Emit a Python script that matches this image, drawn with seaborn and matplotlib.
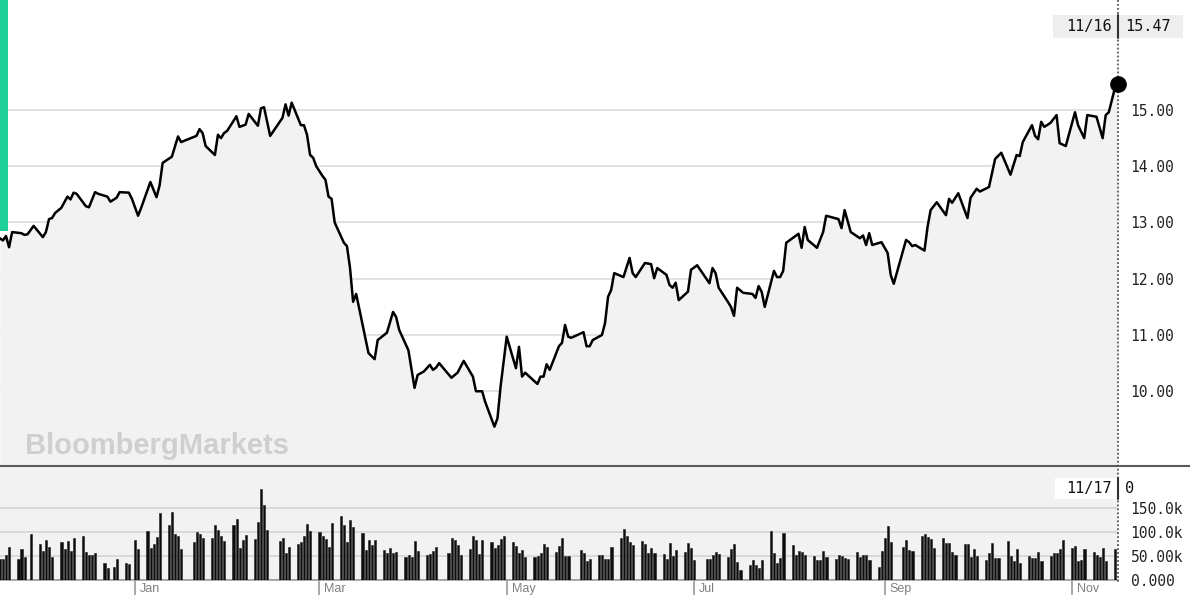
import pandas as pd
import matplotlib
matplotlib.use("Agg")
import matplotlib.pyplot as plt
import matplotlib.dates as mdates
from matplotlib.lines import Line2D
from matplotlib.patches import Rectangle
import seaborn as sns

# prix de cloture (points du trace)
price_dates = [
    "2019-11-18", "2019-11-19", "2019-11-20", "2019-11-21", "2019-11-22", "2019-11-25", "2019-11-26",
    "2019-11-27", "2019-11-29", "2019-12-02", "2019-12-03", "2019-12-04", "2019-12-05", "2019-12-06",
    "2019-12-08", "2019-12-10", "2019-12-11", "2019-12-12", "2019-12-13", "2019-12-16", "2019-12-17",
    "2019-12-19", "2019-12-20", "2019-12-23", "2019-12-24", "2019-12-26", "2019-12-27", "2019-12-30",
    "2019-12-31", "2020-01-02", "2020-01-03", "2020-01-06", "2020-01-08", "2020-01-09", "2020-01-10",
    "2020-01-13", "2020-01-15", "2020-01-16", "2020-01-21", "2020-01-22", "2020-01-23", "2020-01-24",
    "2020-01-27", "2020-01-28", "2020-01-29", "2020-01-30", "2020-01-31", "2020-02-02", "2020-02-03",
    "2020-02-04", "2020-02-06", "2020-02-07", "2020-02-10", "2020-02-11", "2020-02-12", "2020-02-14",
    "2020-02-18", "2020-02-19", "2020-02-20", "2020-02-21", "2020-02-24", "2020-02-25", "2020-02-26",
    "2020-02-27", "2020-02-28", "2020-02-29", "2020-03-02", "2020-03-03", "2020-03-04", "2020-03-05",
    "2020-03-06", "2020-03-09", "2020-03-10", "2020-03-11", "2020-03-12", "2020-03-13", "2020-03-17",
    "2020-03-19", "2020-03-20", "2020-03-23", "2020-03-25", "2020-03-26", "2020-03-27", "2020-03-30",
    "2020-04-01", "2020-04-02", "2020-04-04", "2020-04-06", "2020-04-07", "2020-04-08", "2020-04-09",
    "2020-04-13", "2020-04-15", "2020-04-17", "2020-04-20", "2020-04-21", "2020-04-23", "2020-04-24",
    "2020-04-27", "2020-04-28", "2020-04-29", "2020-05-01", "2020-05-04", "2020-05-05", "2020-05-06",
    "2020-05-07", "2020-05-11", "2020-05-12", "2020-05-13", "2020-05-14", "2020-05-15", "2020-05-18",
    "2020-05-19", "2020-05-20", "2020-05-21", "2020-05-22", "2020-05-26", "2020-05-27", "2020-05-28",
    "2020-05-29", "2020-06-01", "2020-06-02", "2020-06-03", "2020-06-04", "2020-06-05", "2020-06-08",
    "2020-06-10", "2020-06-11", "2020-06-12", "2020-06-15", "2020-06-17", "2020-06-18", "2020-06-19",
    "2020-06-22", "2020-06-23", "2020-06-24", "2020-06-25", "2020-06-26", "2020-06-29", "2020-06-30",
    "2020-07-02", "2020-07-06", "2020-07-07", "2020-07-08", "2020-07-09", "2020-07-12", "2020-07-13",
    "2020-07-14", "2020-07-15", "2020-07-17", "2020-07-20", "2020-07-21", "2020-07-22", "2020-07-23",
    "2020-07-24", "2020-07-27", "2020-07-28", "2020-07-29", "2020-07-30", "2020-07-31", "2020-08-02",
    "2020-08-04", "2020-08-05", "2020-08-06", "2020-08-07", "2020-08-10", "2020-08-12", "2020-08-13",
    "2020-08-17", "2020-08-18", "2020-08-19", "2020-08-21", "2020-08-24", "2020-08-25", "2020-08-26",
    "2020-08-27", "2020-08-28", "2020-08-31", "2020-09-02", "2020-09-03", "2020-09-04", "2020-09-08",
    "2020-09-09", "2020-09-10", "2020-09-11", "2020-09-14", "2020-09-15", "2020-09-16", "2020-09-18",
    "2020-09-21", "2020-09-22", "2020-09-23", "2020-09-25", "2020-09-28", "2020-09-29", "2020-10-01",
    "2020-10-02", "2020-10-05", "2020-10-07", "2020-10-09", "2020-10-12", "2020-10-14", "2020-10-15",
    "2020-10-16", "2020-10-19", "2020-10-20", "2020-10-21", "2020-10-22", "2020-10-23", "2020-10-25",
    "2020-10-27", "2020-10-28", "2020-10-30", "2020-11-02", "2020-11-03", "2020-11-05", "2020-11-06",
    "2020-11-09", "2020-11-11", "2020-11-12", "2020-11-13", "2020-11-15", "2020-11-16",
]
price_values = [
    12.72, 12.68, 12.76, 12.56, 12.83, 12.81, 12.78,
    12.79, 12.94, 12.74, 12.83, 13.06, 13.08, 13.17,
    13.26, 13.46, 13.41, 13.53, 13.51, 13.29, 13.27,
    13.54, 13.51, 13.46, 13.37, 13.44, 13.54, 13.53,
    13.42, 13.12, 13.26, 13.72, 13.45, 13.66, 14.06,
    14.17, 14.53, 14.43, 14.54, 14.66, 14.59, 14.36,
    14.20, 14.56, 14.50, 14.59, 14.63, 14.80, 14.89,
    14.70, 14.74, 14.93, 14.72, 15.03, 15.05, 14.54,
    14.86, 15.10, 14.90, 15.13, 14.73, 14.73, 14.56,
    14.20, 14.15, 14.00, 13.83, 13.76, 13.46, 13.42,
    13.00, 12.64, 12.58, 12.19, 11.59, 11.73, 10.68,
    10.57, 10.91, 11.04, 11.41, 11.32, 11.09, 10.73,
    10.06, 10.29, 10.35, 10.47, 10.38, 10.42, 10.50,
    10.24, 10.33, 10.54, 10.26, 10.00, 10.00, 9.81,
    9.37, 9.52, 10.08, 10.97, 10.41, 10.79, 10.26,
    10.33, 10.13, 10.26, 10.26, 10.48, 10.38, 10.80,
    10.86, 11.18, 10.97, 10.95, 11.05, 10.80, 10.80,
    10.91, 11.00, 11.21, 11.68, 11.80, 12.10, 12.03,
    12.37, 12.10, 12.03, 12.28, 12.26, 12.01, 12.19,
    12.07, 11.89, 11.84, 11.93, 11.62, 11.77, 12.16,
    12.24, 11.92, 12.19, 12.10, 11.84, 11.59, 11.50,
    11.34, 11.84, 11.75, 11.73, 11.66, 11.87, 11.77,
    11.50, 12.14, 12.03, 12.03, 12.14, 12.64, 12.72,
    12.80, 12.55, 12.92, 12.69, 12.55, 12.83, 13.12,
    13.06, 12.90, 13.22, 12.83, 12.72, 12.77, 12.60,
    12.81, 12.60, 12.65, 12.46, 12.07, 11.91, 12.69,
    12.65, 12.58, 12.60, 12.50, 12.92, 13.22, 13.36,
    13.13, 13.42, 13.35, 13.52, 13.08, 13.44, 13.60,
    13.55, 13.63, 14.13, 14.24, 13.85, 14.20, 14.18,
    14.43, 14.73, 14.54, 14.48, 14.79, 14.70, 14.77,
    14.91, 14.41, 14.36, 14.96, 14.73, 14.50, 14.91,
    14.88, 14.50, 14.91, 14.96, 15.39, 15.47,
]

# volume journalier (milliers), une barre par seance
vol_start = "2019-11-18"
vol_end = "2020-11-16"
vol_holidays = ["2019-11-28", "2019-12-25", "2020-01-01", "2020-01-20", "2020-02-17",
                "2020-04-10", "2020-05-25", "2020-07-03", "2020-09-07"]
volume_k = [
    50, 43, 43, 52, 69,  44, 65, 47, 96,  75, 60, 83, 69, 47,  78, 64, 81, 60, 87,
    92, 58, 51, 51, 56,  35, 24, 26, 43,  36, 34, 83, 64,  101, 66, 74, 90, 140,
    115, 142, 96, 92, 65,  79, 100, 96, 87,  87, 114, 105, 92, 82,  114, 126, 66, 83, 93,
    85, 120, 189, 156, 103,  81, 87, 56, 69,  74, 79, 92, 117, 102,  99, 92, 85, 69, 119,
    133, 115, 79, 124, 110,  97, 62, 83, 72, 83,  62, 56, 66, 56, 59,  48, 53, 47, 82, 61,
    53, 55, 61, 69,  56, 87, 83, 72, 53,  64, 92, 83, 55, 83,  78, 67, 73, 85, 91,
    80, 71, 56, 62, 47,  48, 49, 56, 74, 68,  58, 70, 88, 50, 50,  62, 56, 40, 44,
    51, 51, 43, 44, 68,  87, 107, 92, 79, 73,  81, 74, 56, 67, 56,  54, 44, 76, 49, 62,
    58, 77, 66, 42,  43, 44, 53, 58, 55,  48, 65, 75, 37, 21,  31, 42, 31, 24, 42,
    102, 56, 36, 46, 97,  73, 51, 61, 58, 53,  49, 42, 42, 60, 47,  44, 53, 49, 45, 44,
    58, 47, 51, 51, 42,  28, 60, 88, 112, 79,  68, 83, 62, 61,  92, 96, 90, 85, 67,
    87, 76, 76, 59, 53,  75, 75, 47, 64, 50,  42, 57, 76, 46, 46,  81, 50, 40, 65, 35,
    49, 45, 45, 58, 40,  49, 56, 57, 64, 83,  66, 71, 40, 42, 65,  58, 51, 47, 67, 40,
    65,
]

price_ticks = [10, 11, 12, 13, 14, 15]
vol_ticks = [0, 50, 100, 150]
vol_tick_labels = ["0.000", "50.00k", "100.0k", "150.0k"]
month_ticks = ["2020-01-01", "2020-03-01", "2020-05-01", "2020-07-01", "2020-09-01", "2020-11-01"]
month_labels = ["Jan", "Mar", "May", "Jul", "Sep", "Nov"]
last_price_label = ("11/16", "15.47")
last_vol_label = ("11/17", "0")

W, H = 1190, 600


def fx(px):
    return px / W


def fy(py):
    return 1 - py / H


sns.set_theme(style="white")
plt.rcParams["font.family"] = ["DejaVu Sans Mono"]

df = pd.DataFrame({"date": pd.to_datetime(price_dates), "price": price_values})
vol_days = pd.bdate_range(vol_start, vol_end, freq="C", holidays=vol_holidays)
vdf = pd.DataFrame({"date": vol_days, "volume": volume_k})

fig = plt.figure(figsize=(W / 100, H / 100), dpi=100)
ax = fig.add_axes([0, fy(465), fx(1118), 465 / H])
axv = fig.add_axes([0, fy(580), fx(1118), (580 - 467) / H])

jan1 = pd.Timestamp("2020-01-01")
x0 = jan1 - pd.Timedelta(days=43.95)
x1 = pd.Timestamp("2020-11-16")
y_lo = 15 - (465 - 110) / 56.25
y_hi = 15 + 110 / 56.25

# --- prix ---
ax.fill_between(df["date"], df["price"], y_lo, color="#f2f2f2", lw=0, zorder=1)
sns.lineplot(data=df, x="date", y="price", ax=ax, color="black", lw=1.8,
             estimator=None, zorder=3)
ax.set_xlim(x0, x1)
ax.set_ylim(y_lo, y_hi)
ax.set_yticks(price_ticks)
ax.set_yticklabels([f"{v:.2f}" for v in price_ticks])
ax.yaxis.tick_right()
ax.tick_params(axis="y", length=0, pad=9, labelsize=10.5, labelcolor="#222222")
ax.set_xticks([])
ax.set_xlabel("")
ax.set_ylabel("")
ax.grid(axis="y", color="#dcdcdc", lw=1.2, zorder=0)
ax.set_axisbelow(True)
for s in ax.spines.values():
    s.set_visible(False)

# --- volume ---
axv.set_facecolor("#f2f2f2")
axv.bar(vdf["date"] - pd.Timedelta(hours=22), vdf["volume"], width=0.72,
        color="#0d0d0d", edgecolor="#1e1e1e", lw=0.4, zorder=3)
axv.set_xlim(x0, x1)
axv.set_ylim(0, 235)
axv.set_yticks(vol_ticks)
axv.set_yticklabels(vol_tick_labels)
axv.yaxis.tick_right()
axv.tick_params(axis="y", length=0, pad=9, labelsize=10.5, labelcolor="#222222")
axv.grid(axis="y", color="#d4d4d4", lw=1.2, zorder=0)
axv.set_axisbelow(True)
axv.set_xticks(pd.to_datetime(month_ticks))
axv.set_xticklabels([])
axv.tick_params(axis="x", length=11, width=1.2, color="#9a9a9a", direction="out", bottom=True)
for name, s in axv.spines.items():
    s.set_visible(name == "bottom")
axv.spines["bottom"].set_color("#9a9a9a")
axv.spines["bottom"].set_linewidth(1.2)
for d, lab in zip(pd.to_datetime(month_ticks), month_labels):
    axv.annotate(lab, xy=(d, 0), xycoords=("data", "axes fraction"), xytext=(5, -9),
                 textcoords="offset pixels", ha="left", va="center", fontsize=9,
                 color="#808080", family="Liberation Sans")

# separateur entre les deux panneaux
fig.add_artist(Line2D([0, 1], [fy(465.5), fy(465.5)], transform=fig.transFigure,
                      color="#5a5a5a", lw=1.5))
# curseur vertical pointille
fig.add_artist(Line2D([fx(1118), fx(1118)], [1, fy(582)], transform=fig.transFigure,
                      color="#555555", lw=1.3, ls=(0, (1, 1.2)), zorder=6))
# point final au-dessus du curseur
last_x = mdates.date2num(df["date"].iloc[-1])
fig.add_artist(Line2D([last_x], [df["price"].iloc[-1]], transform=ax.transData,
                      marker="o", ms=11, color="black", lw=0, zorder=7))

# etiquettes du dernier point
fig.add_artist(Rectangle((fx(1053), fy(38)), fx(130), 23 / H, transform=fig.transFigure,
                         facecolor="#eeeeee", edgecolor="none", zorder=7))
fig.add_artist(Line2D([fx(1118), fx(1118)], [fy(15), fy(38)], transform=fig.transFigure,
                      color="#333333", lw=1.5, zorder=8))
fig.text(fx(1112), fy(26.5), last_price_label[0], ha="right", va="center", fontsize=11,
         color="#111111", zorder=9)
fig.text(fx(1125), fy(26.5), last_price_label[1], ha="left", va="center", fontsize=11,
         color="#111111", zorder=9)

fig.add_artist(Rectangle((fx(1055), fy(499)), fx(87), 21 / H, transform=fig.transFigure,
                         facecolor="white", edgecolor="none", zorder=7))
fig.add_artist(Line2D([fx(1118), fx(1118)], [fy(478), fy(499)], transform=fig.transFigure,
                      color="#333333", lw=1.5, zorder=8))
fig.text(fx(1112), fy(488.5), last_vol_label[0], ha="right", va="center", fontsize=11,
         color="#111111", zorder=9)
fig.text(fx(1125), fy(488.5), last_vol_label[1], ha="left", va="center", fontsize=11,
         color="#111111", zorder=9)

# bande verte a gauche et filigrane
fig.add_artist(Rectangle((0, fy(231)), fx(8), 231 / H, transform=fig.transFigure,
                         facecolor="#1fd199", edgecolor="none", zorder=10))
fig.text(fx(25), fy(446), "BloombergMarkets", ha="left", va="center", fontsize=21,
         fontweight="bold", color="#cfcfcf", family="Liberation Sans", zorder=4)

fig.savefig("out.png", dpi=100)
